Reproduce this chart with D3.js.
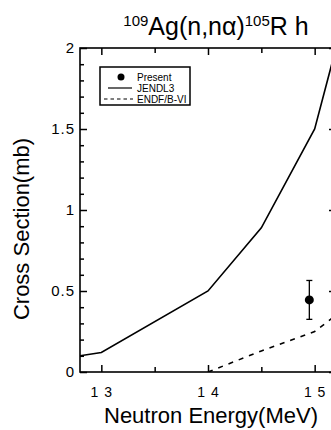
<!DOCTYPE html>
<html><head><meta charset="utf-8">
<script src="https://cdn.jsdelivr.net/npm/d3@7"></script>
<style>
html,body{margin:0;padding:0;background:#fff;}
svg{display:block;font-family:"Liberation Sans",Arial,Helvetica,sans-serif;}
</style></head>
<body>
<svg id="chart" width="331" height="430"></svg>
<script>
// Data
const jendlE = [12.8, 13.0, 14.0, 14.5, 15.0, 15.2];
const jendlXS = [0.10, 0.12, 0.50, 0.89, 1.50, 2.00];
const endfE = [14.0, 14.5, 15.0, 15.2];
const endfXS = [0.00, 0.13, 0.25, 0.35];
const presentE = [14.95];
const presentXS = [0.445];
const presentErr = [0.12];
const xMajorTicks = [13, 14, 15];
const xMinorTicks = [13.5, 14.5];
const xTickLabels = ["1 3", "1 4", "1 5"];
const yMajorTicks = [0, 0.5, 1, 1.5, 2];
const yTickLabels = ["0", "0.5", "1", "1.5", "2"];
const yMinorTicks = [0.1,0.2,0.3,0.4,0.6,0.7,0.8,0.9,1.1,1.2,1.3,1.4,1.6,1.7,1.8,1.9];
const legendLabels = ["Present", "JENDL3", "ENDF/B-VI"];

const svg = d3.select("#chart");
const L = 80, R = 336, T = 48, B = 372;
const x = d3.scaleLinear().domain([12.8, 15.2]).range([L, R]);
const y = d3.scaleLinear().domain([0, 2]).range([B, T]);

const defs = svg.append("defs");
defs.append("clipPath").attr("id","clip")
  .append("rect").attr("x",L).attr("y",T).attr("width",R-L).attr("height",B-T);

// Frame
svg.append("rect").attr("x",L).attr("y",T).attr("width",R-L).attr("height",B-T)
  .attr("fill","none").attr("stroke","#000").attr("stroke-width",1.6);

// Bottom axis
const fmtX = d => xTickLabels[xMajorTicks.indexOf(d)];
const gx = svg.append("g").attr("transform",`translate(0,${B})`)
  .call(d3.axisBottom(x).tickValues(xMajorTicks).tickSize(-7).tickPadding(15).tickFormat(fmtX));
svg.append("g").attr("transform",`translate(0,${B})`)
  .call(d3.axisBottom(x).tickValues(xMinorTicks).tickSize(-5).tickFormat(""));
// Top axis
svg.append("g").attr("transform",`translate(0,${T})`)
  .call(d3.axisTop(x).tickValues(xMajorTicks).tickSize(-7).tickFormat(""));
svg.append("g").attr("transform",`translate(0,${T})`)
  .call(d3.axisTop(x).tickValues(xMinorTicks).tickSize(-5).tickFormat(""));
// Left axis
const fmtY = d => yTickLabels[yMajorTicks.indexOf(d)];
const gy = svg.append("g").attr("transform",`translate(${L},0)`)
  .call(d3.axisLeft(y).tickValues(yMajorTicks).tickSize(-7).tickPadding(5).tickFormat(fmtY));
svg.append("g").attr("transform",`translate(${L},0)`)
  .call(d3.axisLeft(y).tickValues(yMinorTicks).tickSize(-4).tickFormat(""));
// Right axis
svg.append("g").attr("transform",`translate(${R},0)`)
  .call(d3.axisRight(y).tickValues(yMajorTicks).tickSize(-7).tickFormat(""));
svg.append("g").attr("transform",`translate(${R},0)`)
  .call(d3.axisRight(y).tickValues(yMinorTicks).tickSize(-4).tickFormat(""));

svg.selectAll(".domain").remove();
svg.selectAll(".tick line").attr("stroke","#000").attr("stroke-width",1.5);
svg.selectAll(".tick text").attr("fill","#000")
  .style("letter-spacing","1px")
  .style("font-family",'"Liberation Sans",Arial,sans-serif');
gx.selectAll(".tick text").style("font-size","14px");
gy.selectAll(".tick text").style("font-size","15px");

// Lines
const plot = svg.append("g").attr("clip-path","url(#clip)");
const line = d3.line().x(d => x(d[0])).y(d => y(d[1]));
plot.append("path").datum(jendlE.map((e,i)=>[e,jendlXS[i]]))
  .attr("d",line).attr("fill","none").attr("stroke","#000").attr("stroke-width",1.6);
plot.append("path").datum(endfE.map((e,i)=>[e,endfXS[i]]))
  .attr("d",line).attr("fill","none").attr("stroke","#000").attr("stroke-width",1.6)
  .attr("stroke-dasharray","5,6");

// Present point with error bar
presentE.forEach((e,i)=>{
  const cx = x(e), v = presentXS[i], er = presentErr[i];
  plot.append("line").attr("x1",cx).attr("x2",cx).attr("y1",y(v-er)).attr("y2",y(v+er))
    .attr("stroke","#000").attr("stroke-width",1.3);
  [v-er, v+er].forEach(vv=>plot.append("line").attr("x1",cx-3).attr("x2",cx+3)
    .attr("y1",y(vv)).attr("y2",y(vv)).attr("stroke","#000").attr("stroke-width",1.3));
  plot.append("circle").attr("cx",cx).attr("cy",y(v)).attr("r",4.5).attr("fill","#000");
});

// Legend
const lg = svg.append("g");
const lx = 100, ly = 67, lw = 90, lh = 38;
defs.append("clipPath").attr("id","lgclip")
  .append("rect").attr("x",lx).attr("y",ly).attr("width",lw).attr("height",lh);
lg.append("rect").attr("x",lx).attr("y",ly).attr("width",lw).attr("height",lh)
  .attr("fill","#fff").attr("stroke","none");
const lgi = lg.append("g").attr("clip-path","url(#lgclip)");
const rowY = [77, 88, 99];
lgi.append("circle").attr("cx",121).attr("cy",rowY[0]).attr("r",3.5).attr("fill","#000");
lgi.append("line").attr("x1",108).attr("x2",132).attr("y1",rowY[1]).attr("y2",rowY[1])
  .attr("stroke","#000").attr("stroke-width",1.2);
lgi.append("line").attr("x1",104).attr("x2",133).attr("y1",rowY[2]).attr("y2",rowY[2])
  .attr("stroke","#000").attr("stroke-width",1.2).attr("stroke-dasharray","3.5,3");
legendLabels.forEach((t,i)=>lgi.append("text").attr("x",137).attr("y",rowY[i]+3.5)
  .style("font-size","10px").text(t));
lg.append("rect").attr("x",lx).attr("y",ly).attr("width",lw).attr("height",lh)
  .attr("fill","none").attr("stroke","#000").attr("stroke-width",1.5);

// Titles
const title = svg.append("text").attr("x",216).attr("y",35).attr("text-anchor","middle")
  .style("font-size","25px");
title.append("tspan").attr("dy","-9").style("font-size","15px").text("109");
title.append("tspan").attr("dy","9").text("Ag(n,nα)");
title.append("tspan").attr("dy","-9").style("font-size","15px").text("105");
title.append("tspan").attr("dy","9").text("R h");

svg.append("text").attr("x",211).attr("y",423).attr("text-anchor","middle")
  .style("font-size","22px").text("Neutron Energy(MeV)");
svg.append("text").attr("transform","translate(29,229) rotate(-90)").attr("text-anchor","middle")
  .style("font-size","22px").text("Cross Section(mb)");
</script>
</body></html>
